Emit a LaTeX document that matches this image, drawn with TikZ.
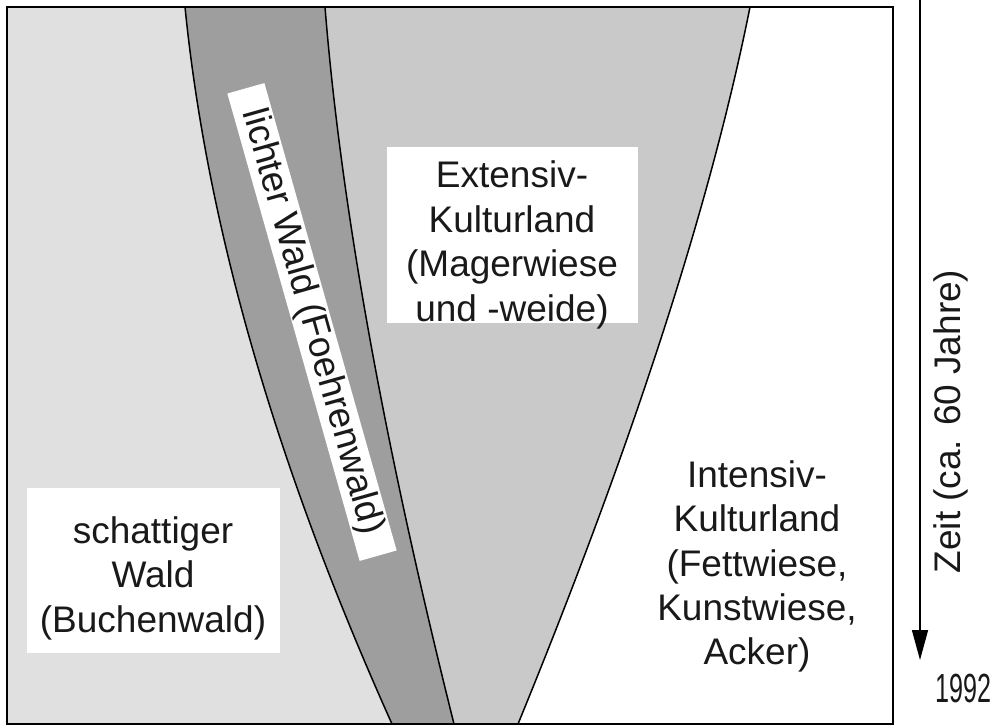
\documentclass[tikz,border=0pt]{standalone}
\usepackage{fontspec}
\setmainfont{Liberation Sans}
\usetikzlibrary{arrows.meta}

\definecolor{grauschatten}{gray}{0.88}
\definecolor{graulicht}{gray}{0.62}
\definecolor{grauextensiv}{gray}{0.79}

\begin{document}
\begin{tikzpicture}[
      x=0.02cm, y=-0.02cm,
      grenze/.style={draw=black, line width=0.03cm},
      feld/.style={fill=white, inner sep=0pt},
      schrift/.style={align=center, inner sep=0pt, text=black!90,
                      font=\fontsize{21.06pt}{25.3pt}\selectfont},
      zeitpfeil/.style={-{Triangle[length=0.6cm,width=0.32cm]}, line width=0.03cm}]
      \useasboundingbox (0,0) rectangle (993,726);

      % Rahmen und Grenzen
      \coordinate (rahmen-ol) at (7,7);     \coordinate (rahmen-ur) at (893,724);
      \coordinate (rahmen-or) at (893,7);
      \coordinate (wl-o) at (185,7);        \coordinate (wl-u) at (392,724);
      \coordinate (wl-a) at (207,227);      \coordinate (wl-b) at (276,466);
      \coordinate (le-o) at (325,7);        \coordinate (le-u) at (454,724);
      \coordinate (le-a) at (340.7,204);    \coordinate (le-b) at (383.7,443);
      \coordinate (ei-o) at (750,7);        \coordinate (ei-u) at (518,724);
      \coordinate (ei-a) at (710.7,203.7);  \coordinate (ei-b) at (633.3,442.7);

      % Flaechen
      \fill[grauschatten] (rahmen-ol) rectangle (rahmen-ur);
      \fill[graulicht] (wl-o) .. controls (wl-a) and (wl-b) .. (wl-u) -- (le-u)
                       .. controls (le-b) and (le-a) .. (le-o) -- cycle;
      \fill[grauextensiv] (le-o) .. controls (le-a) and (le-b) .. (le-u) -- (ei-u)
                          .. controls (ei-b) and (ei-a) .. (ei-o) -- cycle;
      \fill[white] (ei-o) .. controls (ei-a) and (ei-b) .. (ei-u) -- (rahmen-ur) -- (rahmen-or) -- cycle;

      \draw[grenze] (wl-o) .. controls (wl-a) and (wl-b) .. (wl-u);
      \draw[grenze] (le-o) .. controls (le-a) and (le-b) .. (le-u);
      \draw[grenze] (ei-o) .. controls (ei-a) and (ei-b) .. (ei-u);
      \draw[line width=0.04cm] (rahmen-ol) rectangle (rahmen-ur);

      % Beschriftung
      \node[feld, minimum width=5.06cm, minimum height=3.3cm] (waldfeld) at (153.5,570.5) {};
      \node[schrift] (wald) at (153,578) {schattiger\\Wald\\(Buchenwald)};
      \node[feld, minimum width=5.02cm, minimum height=3.52cm] (extensivfeld) at (512.5,235) {};
      \node[schrift] (extensiv) at (512,245) {Extensiv-\\Kulturland\\(Magerwiese\\und -weide)};
      \node[schrift] (intensiv) at (757,566.5) {Intensiv-\\Kulturland\\(Fettwiese,\\Kunstwiese,\\Acker)};
      \node[schrift, feld, rotate=-74.2, inner xsep=0.45cm, inner ysep=0.04cm] (lichtwald)
            at (312,322) {lichter Wald (Foehrenwald)};

      % Zeitachse
      \coordinate (zeitstart) at (920,0);
      \coordinate (zeitende)  at (920,660);
      \draw[zeitpfeil] (zeitstart) -- (zeitende);
      \node[schrift, rotate=90] (zeit) at (951,421.5) {Zeit (ca. 60 Jahre)};
      \node[schrift] (jahr) at (963.5,688) {\scalebox{0.68}[1.1]{1992}};
\end{tikzpicture}
\end{document}
